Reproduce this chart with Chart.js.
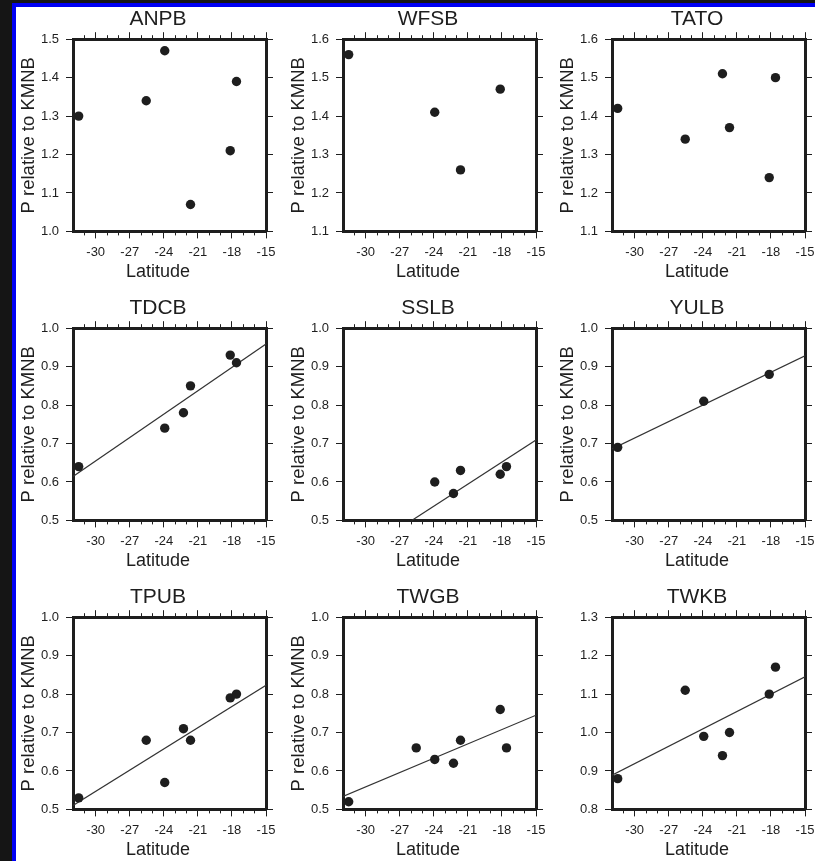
<!DOCTYPE html>
<html>
<head>
<meta charset="utf-8">
<script src="https://cdn.jsdelivr.net/npm/chart.js@4.4.1/dist/chart.umd.min.js"></script>
<style>
  html, body { margin: 0; padding: 0; width: 815px; height: 861px; overflow: hidden; background: #151515; }
  #sheet { position: absolute; left: 12px; top: 3px; width: 820px; height: 870px; background: #fff;
           border-left: 4px solid #0000f2; border-top: 4px solid #0000f2; }
  canvas { position: absolute; }
</style>
</head>
<body>
<div id="sheet"></div>
<script>
// stations, one panel each (read left to right, top to bottom)
const stations = ['ANPB', 'WFSB', 'TATO', 'TDCB', 'SSLB', 'YULB', 'TPUB', 'TWGB', 'TWKB'];
// event latitudes shared by all stations
const latitudes = [-31.5, -25.55, -23.92, -22.27, -21.65, -18.15, -17.6];
// P relative to KMNB (null = no reading at that latitude)
const anpb = [1.30, 1.34, 1.47, null, 1.07, 1.21, 1.39];
const wfsb = [1.56, null, 1.41, null, 1.26, 1.47, null];
const tato = [1.42, 1.34, null, 1.51, 1.37, 1.24, 1.50];
const tdcb = [0.64, null, 0.74, 0.78, 0.85, 0.93, 0.91];
const sslb = [null, null, 0.60, 0.57, 0.63, 0.62, 0.64];
const yulb = [0.69, null, 0.81, null, null, 0.88, null];
const tpub = [0.53, 0.68, 0.57, 0.71, 0.68, 0.79, 0.80];
const twgb = [0.52, 0.66, 0.63, 0.62, 0.68, 0.76, 0.66];
const twkb = [0.88, 1.11, 0.99, 0.94, 1.00, 1.10, 1.17];
const values = [anpb, wfsb, tato, tdcb, sslb, yulb, tpub, twgb, twkb];
// fitted line, value at the west and east edge of the panel
const fitWest = [null, null, null, 0.614, 0.384, 0.686, 0.51, 0.534, 0.889];
const fitEast = [null, null, null, 0.959, 0.709, 0.928, 0.823, 0.745, 1.145];
// axis ranges and ticks
const latRange = [-32, -15];
const yMin = [1.0, 1.1, 1.1, 0.5, 0.5, 0.5, 0.5, 0.5, 0.8];
const yMax = [1.5, 1.6, 1.6, 1.0, 1.0, 1.0, 1.0, 1.0, 1.3];
const yStep = 0.1;
const xTicks = [-30, -27, -24, -21, -18, -15];
const xMinorTicks = [-31, -30, -29, -28, -27, -26, -25, -24, -23, -22, -21, -20, -19, -18, -17, -16, -15];
const xTitle = 'Latitude';
const yTitle = 'P relative to KMNB';

const ink = '#1e1e1e';
const fam = '"Liberation Sans", Arial, sans-serif';
const colLeft = [14, 284, 553];
const rowTop = [0, 289, 578];

const frame = { display: true, width: 3, color: ink };
const noFrame = { display: false };

const tickList = (list) => (scale) => { scale.ticks = list.map(v => ({ value: v })); };

const panel = (i) => {
    const canvas = document.createElement('canvas');
    canvas.width = 288;
    canvas.height = 285;
    canvas.style.left = colLeft[i % 3] + 'px';
    canvas.style.top = rowTop[Math.floor(i / 3)] + 'px';
    document.body.appendChild(canvas);

    const points = [];
    latitudes.forEach((lat, k) => {
        if (values[i][k] != null) points.push({ x: lat, y: values[i][k] });
    });
    const datasets = [{
        data: points,
        pointRadius: 4.7,
        pointBackgroundColor: ink,
        pointBorderWidth: 0,
        showLine: false,
        clip: false
    }];
    if (fitWest[i] != null) {
        datasets.push({
            data: [{ x: latRange[0], y: fitWest[i] }, { x: latRange[1], y: fitEast[i] }],
            showLine: true,
            pointRadius: 0,
            borderColor: '#333',
            borderWidth: 1.2,
            clip: 0
        });
    }

    const xBase = { type: 'linear', min: latRange[0], max: latRange[1], grid: { drawOnChartArea: false, tickColor: ink, tickWidth: 1 } };
    const yBase = { type: 'linear', min: yMin[i], max: yMax[i] };

    new Chart(canvas.getContext('2d'), {
        type: 'scatter',
        data: { datasets },
        options: {
            responsive: false,
            animation: false,
            devicePixelRatio: 1,
            layout: { padding: 0 },
            events: [],
            plugins: {
                legend: { display: false },
                tooltip: { enabled: false },
                title: {
                    display: true, text: stations[i], color: ink,
                    font: { family: fam, size: 21, weight: 'normal', lineHeight: 1.2 },
                    padding: { top: 6.5, bottom: 0 }
                },
                subtitle: {
                    display: true, position: 'bottom', text: xTitle, color: ink,
                    font: { family: fam, size: 18, weight: 'normal', lineHeight: 1.2 },
                    padding: { top: 2, bottom: 2 }
                }
            },
            scales: {
                x: {
                    ...xBase, position: 'bottom', weight: 1,
                    afterBuildTicks: tickList(xTicks),
                    afterFit: (s) => { s.height = 28; },
                    border: frame,
                    grid: { ...xBase.grid, tickLength: 7 },
                    ticks: { color: ink, font: { family: fam, size: 13 }, padding: 6, maxRotation: 0, autoSkip: false }
                },
                xMinor: {
                    ...xBase, position: 'bottom', weight: 0,
                    afterBuildTicks: tickList(xMinorTicks),
                    afterFit: (s) => { s.height = 0; },
                    border: noFrame,
                    grid: { ...xBase.grid, tickLength: 4 },
                    ticks: { display: false }
                },
                x2: {
                    ...xBase, position: 'top', weight: 1,
                    afterBuildTicks: tickList(xTicks),
                    afterFit: (s) => { s.height = 7.5; },
                    border: frame,
                    grid: { ...xBase.grid, tickLength: 7 },
                    ticks: { display: false }
                },
                x2Minor: {
                    ...xBase, position: 'top', weight: 0,
                    afterBuildTicks: tickList(xMinorTicks),
                    afterFit: (s) => { s.height = 0; },
                    border: noFrame,
                    grid: { ...xBase.grid, tickLength: 4 },
                    ticks: { display: false }
                },
                y: {
                    ...yBase, position: 'left',
                    afterFit: (s) => { s.width = 59; },
                    border: frame,
                    grid: { drawOnChartArea: false, tickLength: 7, tickColor: ink, tickWidth: 1 },
                    ticks: { stepSize: yStep, color: ink, font: { family: fam, size: 13 }, padding: 7,
                             callback: (v) => v.toFixed(1) },
                    title: {
                        display: i !== 8, text: yTitle, color: ink,
                        font: { family: fam, size: 18.5, lineHeight: 1.2 },
                        padding: { top: 4, bottom: 0 }
                    }
                },
                y2: {
                    ...yBase, position: 'right',
                    afterFit: (s) => { s.width = 36; },
                    border: frame,
                    grid: { drawOnChartArea: false, tickLength: 7, tickColor: ink, tickWidth: 1 },
                    ticks: { stepSize: yStep, display: false }
                }
            }
        }
    });
};

stations.forEach((name, i) => panel(i));
</script>
</body>
</html>
